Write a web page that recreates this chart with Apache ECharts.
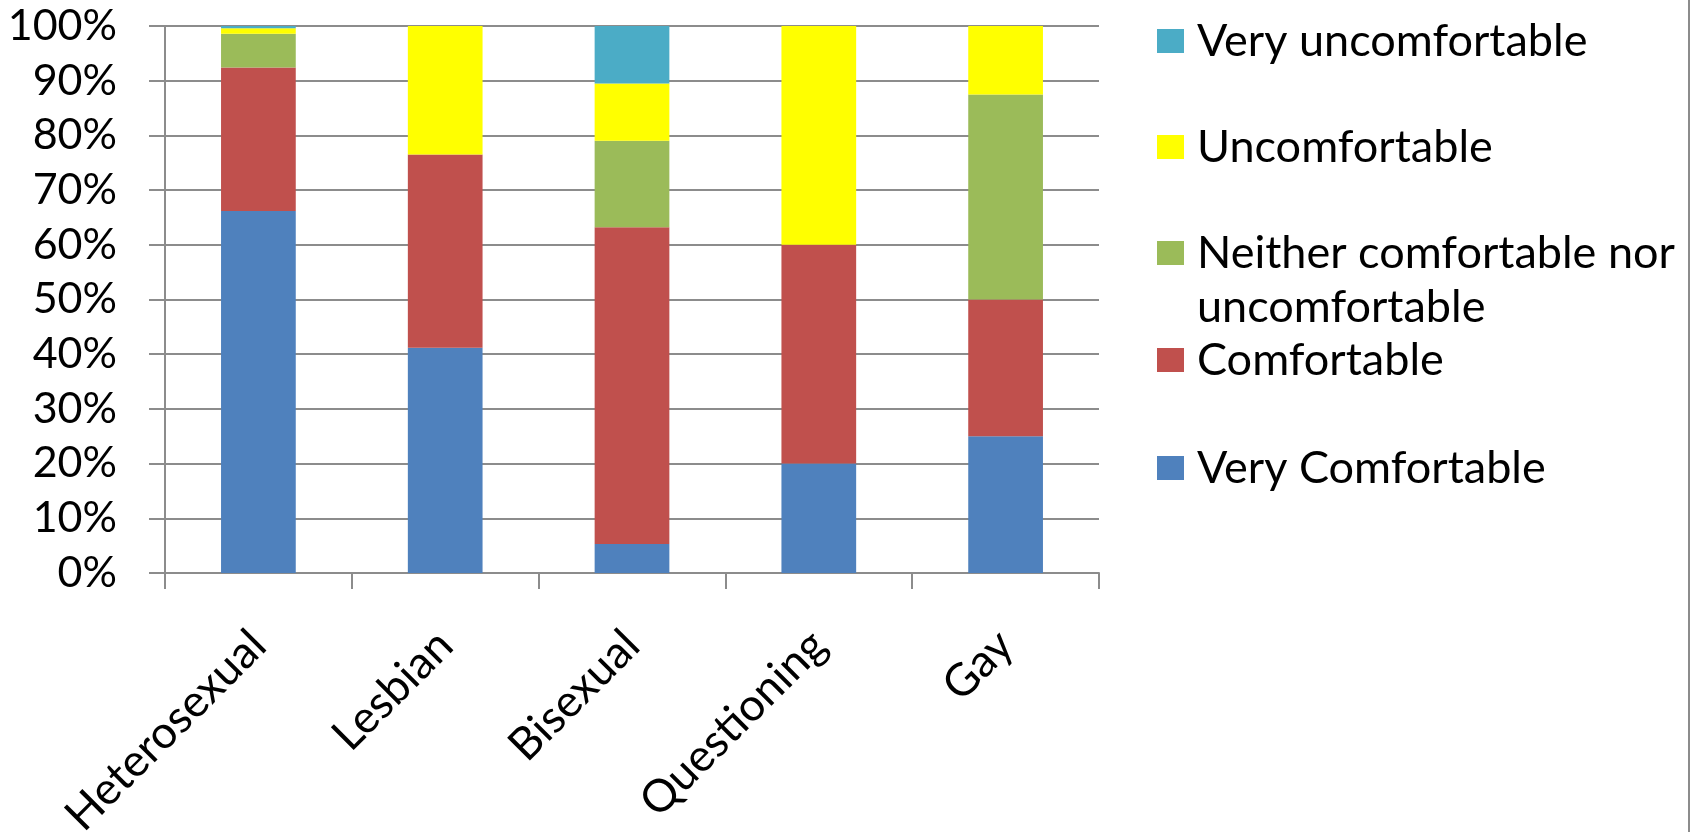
<!DOCTYPE html>
<html>
<head>
<meta charset="utf-8">
<title>Comfort level by orientation</title>
<script src="https://cdn.jsdelivr.net/npm/echarts@6/dist/echarts.min.js"></script>
<style>
  html, body { margin: 0; padding: 0; background: #ffffff; }
  #chart { width: 1690px; height: 832px; }
</style>
</head>
<body>
<div id="chart"></div>
<script>
// Respondent groups along the x axis
const categories = ['Heterosexual', 'Lesbian', 'Bisexual', 'Questioning', 'Gay'];

// Share of each group (percent) giving each answer, bottom of the stack first
const veryComfortable   = [66.2, 41.2, 5.3, 20.0, 25.0];
const comfortable       = [26.2, 35.3, 57.9, 40.0, 25.0];
const neither           = [6.2, 0, 15.8, 0, 37.5];
const uncomfortable     = [1.0, 23.5, 10.5, 40.0, 12.5];
const veryUncomfortable = [0.4, 0, 10.5, 0, 0];

const seriesNames = [
  'Very Comfortable',
  'Comfortable',
  'Neither comfortable nor uncomfortable',
  'Uncomfortable',
  'Very uncomfortable'
];
const seriesValues = [veryComfortable, comfortable, neither, uncomfortable, veryUncomfortable];
const seriesColors = ['#4F81BD', '#C0504D', '#9BBB59', '#FFFF00', '#4BACC6'];

// Y axis tick settings
const yMin = 0, yMax = 100, yStep = 10;

const FONT = 'Lato';
const GRID_COLOR = '#8c8c8c';

const chart = echarts.init(document.getElementById('chart'), null, { renderer: 'canvas' });

// One legend block per entry so each row sits at its own height.
// The wrapped entry gets an empty leading line so its swatch lines up
// with the first line of text.
const legendRows = [
  { name: 'Very uncomfortable', top: 14 },
  { name: 'Uncomfortable', top: 120 },
  { name: 'Neither comfortable nor uncomfortable', top: 172, wrap: true },
  { name: 'Comfortable', top: 333 },
  { name: 'Very Comfortable', top: 441 }
];

const legends = legendRows.map(function (row) {
  return {
    data: [row.name],
    left: 1157,
    top: row.top,
    padding: 0,
    orient: 'vertical',
    itemWidth: 27,
    itemHeight: 24,
    icon: 'rect',
    selectedMode: false,
    formatter: row.wrap
      ? function (n) { return ' \n' + n.replace(' nor ', ' nor\n'); }
      : '{name}',
    textStyle: {
      fontFamily: FONT,
      fontSize: 45,
      color: '#000000',
      lineHeight: 54,
      padding: [0, 0, 0, 8]
    }
  };
});

const option = {
  animation: false,
  backgroundColor: '#ffffff',
  textStyle: { fontFamily: FONT },
  legend: legends,
  grid: {
    left: 165, right: 591, top: 26, bottom: 259,
    containLabel: false,
    outerBoundsMode: 'none'
  },
  xAxis: {
    type: 'category',
    data: categories,
    axisLine: { lineStyle: { color: GRID_COLOR, width: 2 } },
    axisTick: { show: true, length: 16, lineStyle: { color: GRID_COLOR, width: 2 } },
    axisLabel: {
      rotate: 45,
      margin: 65,
      interval: 0,
      fontFamily: FONT,
      fontSize: 45,
      color: '#000000'
    }
  },
  yAxis: {
    type: 'value',
    min: yMin,
    max: yMax,
    interval: yStep,
    axisLine: { show: true, lineStyle: { color: GRID_COLOR, width: 2 } },
    axisTick: { show: true, length: 16, lineStyle: { color: GRID_COLOR, width: 2 } },
    splitLine: { show: true, lineStyle: { color: GRID_COLOR, width: 2 } },
    axisLabel: {
      margin: 48,
      formatter: '{value}%',
      fontFamily: FONT,
      fontSize: 43,
      color: '#000000'
    }
  },
  series: seriesNames.map(function (name, i) {
    return {
      name: name,
      type: 'bar',
      stack: 'share',
      barCategoryGap: '60%',
      itemStyle: { color: seriesColors[i] },
      data: seriesValues[i]
    };
  }),
  graphic: [
    {
      type: 'rect',
      right: 0,
      top: 0,
      shape: { width: 2, height: 832 },
      style: { fill: GRID_COLOR }
    }
  ]
};

chart.setOption(option);
</script>
</body>
</html>
